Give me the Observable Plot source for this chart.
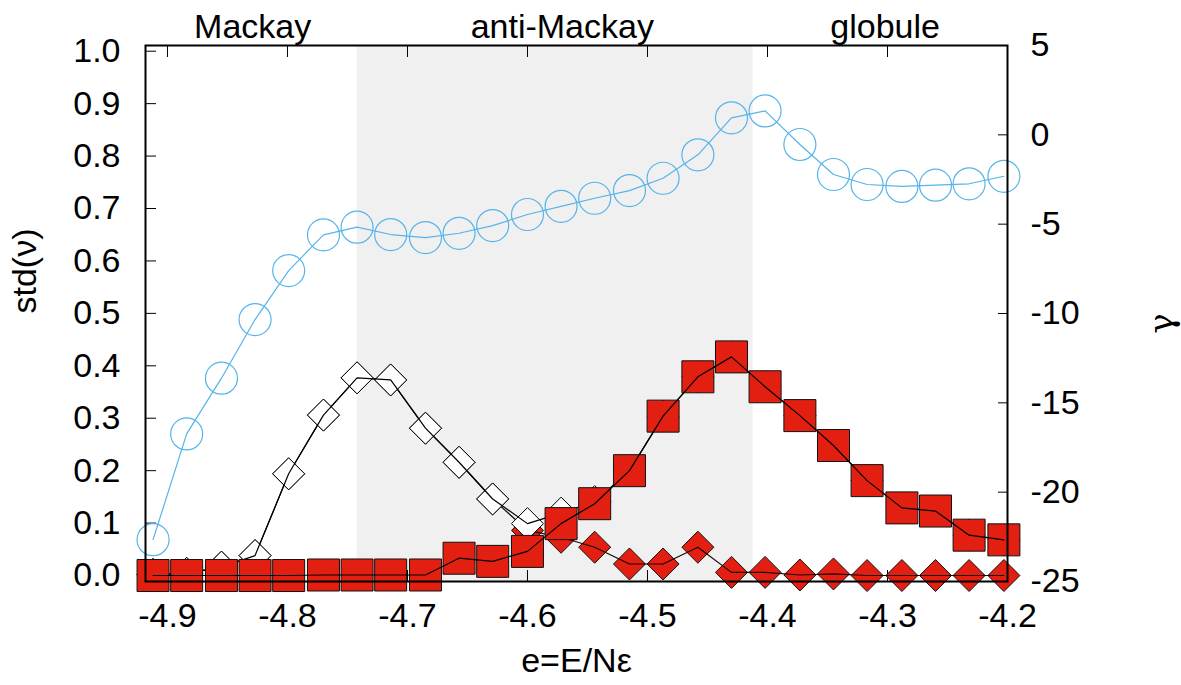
<!DOCTYPE html>
<html><head><meta charset="utf-8">
<script src="https://cdn.jsdelivr.net/npm/d3@7"></script>
<script src="https://cdn.jsdelivr.net/npm/@observablehq/plot@0.6"></script>
<style>html,body{margin:0;padding:0;background:#fff;}</style>
</head><body><div id="chart"></div>
<script>
// ---- data ----
const energy = [-4.912, -4.884, -4.855, -4.827, -4.799, -4.770, -4.742, -4.714, -4.685, -4.657, -4.629, -4.600, -4.572, -4.544, -4.515, -4.487, -4.458, -4.430, -4.402, -4.373, -4.345, -4.317, -4.288, -4.260, -4.232, -4.203];
const gammaValues = [-22.66, -16.74, -13.62, -10.34, -7.60, -5.60, -5.17, -5.58, -5.75, -5.51, -5.08, -4.46, -4.00, -3.55, -3.12, -2.43, -1.12, 0.95, 1.34, -0.54, -2.22, -2.78, -2.89, -2.82, -2.74, -2.32];
const stdOpenDiamond = [0.002, 0.004, 0.016, 0.038, 0.194, 0.306, 0.377, 0.373, 0.281, 0.216, 0.146, 0.099, 0.119, 0.141, 0.200, 0.304, 0.379, 0.417, 0.360, 0.305, 0.248, 0.181, 0.129, 0.123, 0.077, 0.068];
const stdFilledDiamond = [0.002, 0.004, 0.016, 0.038, 0.194, 0.306, 0.377, 0.373, 0.281, 0.216, 0.146, 0.086, 0.073, 0.054, 0.022, 0.022, 0.054, 0.006, 0.006, 0.001, 0.003, 0.000, 0.000, 0.000, 0.000, 0.000];
const stdSquare = [0.000, 0.000, 0.000, 0.000, 0.000, 0.001, 0.001, 0.001, 0.001, 0.033, 0.027, 0.046, 0.099, 0.137, 0.200, 0.304, 0.379, 0.417, 0.360, 0.305, 0.248, 0.181, 0.129, 0.123, 0.077, 0.068];

const xTicks = [-4.9, -4.8, -4.7, -4.6, -4.5, -4.4, -4.3, -4.2];
const stdTicks = [0.0, 0.1, 0.2, 0.3, 0.4, 0.5, 0.6, 0.7, 0.8, 0.9, 1.0];
const gammaTicks = [5, 0, -5, -10, -15, -20, -25];
const regionNames = ["Mackay", "anti-Mackay", "globule"];
const regionLabelX = [-4.829, -4.571, -4.302];
const antiMackayBand = [-4.742, -4.412];
const xDomain = [-4.9183, -4.2];
const stdDomain = [-0.0114, 1.0109];
const gammaDomain = [-25, 5];

// ---- helpers ----
const toStd = g => stdDomain[0] + (g - gammaDomain[0]) / (gammaDomain[1] - gammaDomain[0]) * (stdDomain[1] - stdDomain[0]);
const gammaLabel = new Map(gammaTicks.map(g => [toStd(g), String(g)]));
const squareSym = {draw(ctx, size) {const h = Math.sqrt(size / Math.PI); ctx.moveTo(-h, -h); ctx.lineTo(h, -h); ctx.lineTo(h, h); ctx.lineTo(-h, h); ctx.closePath();}};
const diamondSym = {draw(ctx, size) {const h = Math.sqrt(size / Math.PI); ctx.moveTo(0, -h); ctx.lineTo(h, 0); ctx.lineTo(0, h); ctx.lineTo(-h, 0); ctx.closePath();}};

const rows = energy.map((e, i) => ({
  e, gamma: toStd(gammaValues[i]), open: stdOpenDiamond[i], filled: stdFilledDiamond[i], sq: stdSquare[i]
}));

const RED = "#e31f12";
const BLUE = "#56b4e9";
const FS = 34;

const chart = Plot.plot({
  width: 1181, height: 685,
  marginLeft: 145, marginRight: 174, marginTop: 45, marginBottom: 104,
  x: {domain: xDomain, axis: null},
  y: {domain: stdDomain, axis: null},
  style: {fontFamily: '"Liberation Sans", Arial, Helvetica, sans-serif', fontSize: FS + "px", color: "black", background: "white", overflow: "visible"},
  marks: [
    Plot.rect([antiMackayBand], {x1: d => d[0], x2: d => d[1], y1: () => stdDomain[0], y2: () => stdDomain[1], fill: "#f0f0f0"}),
    Plot.axisY(stdTicks, {anchor: "left", tickSize: -11, tickPadding: 36, tickFormat: d => d.toFixed(1), fontSize: FS, label: null}),
    Plot.axisY(gammaTicks.map(toStd), {anchor: "right", tickSize: -10, tickPadding: 33, tickFormat: d => gammaLabel.get(d), fontSize: FS, label: null}),
    Plot.axisX(xTicks, {anchor: "bottom", tickSize: -11, tickPadding: 32, tickFormat: d => d.toFixed(1), fontSize: FS, label: null}),
    Plot.axisX(xTicks, {anchor: "top", tickSize: -11, tickFormat: () => "", label: null}),
    // filled red diamonds
    Plot.dot(rows, {x: "e", y: "filled", symbol: diamondSym, r: 16, fill: RED, stroke: "#111", strokeWidth: 1}),
    Plot.line(rows, {x: "e", y: "filled", stroke: "#1a0505", strokeWidth: 1.2}),
    // open diamonds
    Plot.dot(rows, {x: "e", y: "open", symbol: diamondSym, r: 16, fill: "white", stroke: "black", strokeWidth: 1}),
    Plot.line(rows, {x: "e", y: "open", stroke: "black", strokeWidth: 1.2}),
    // red squares
    Plot.dot(rows, {x: "e", y: "sq", symbol: squareSym, r: 16, fill: RED, stroke: "#111", strokeWidth: 1}),
    Plot.line(rows, {x: "e", y: "sq", stroke: "black", strokeWidth: 1.2}),
    // gamma (right axis)
    Plot.dot(rows, {x: "e", y: "gamma", r: 16, fill: "none", stroke: BLUE, strokeWidth: 1.2}),
    Plot.line(rows, {x: "e", y: "gamma", stroke: BLUE, strokeWidth: 1.2}),
    // labels
    Plot.text(regionNames, {x: (d, i) => regionLabelX[i], text: d => d, frameAnchor: "top", lineAnchor: "bottom", dy: -8, fontSize: FS}),
    Plot.text(["std(ν)"], {text: d => d, frameAnchor: "left", rotate: -90, dx: -120, fontSize: FS}),
    Plot.text(["γ"], {text: d => d, frameAnchor: "right", rotate: -90, dx: 155, fontSize: FS, fontFamily: "DejaVu Serif"}),
    Plot.text(["e=E/Nε"], {text: d => d, frameAnchor: "bottom", dy: 90, fontSize: FS}),
    Plot.frame({stroke: "black", strokeWidth: 2})
  ]
});
document.getElementById("chart").appendChild(chart);
</script>
</body></html>
